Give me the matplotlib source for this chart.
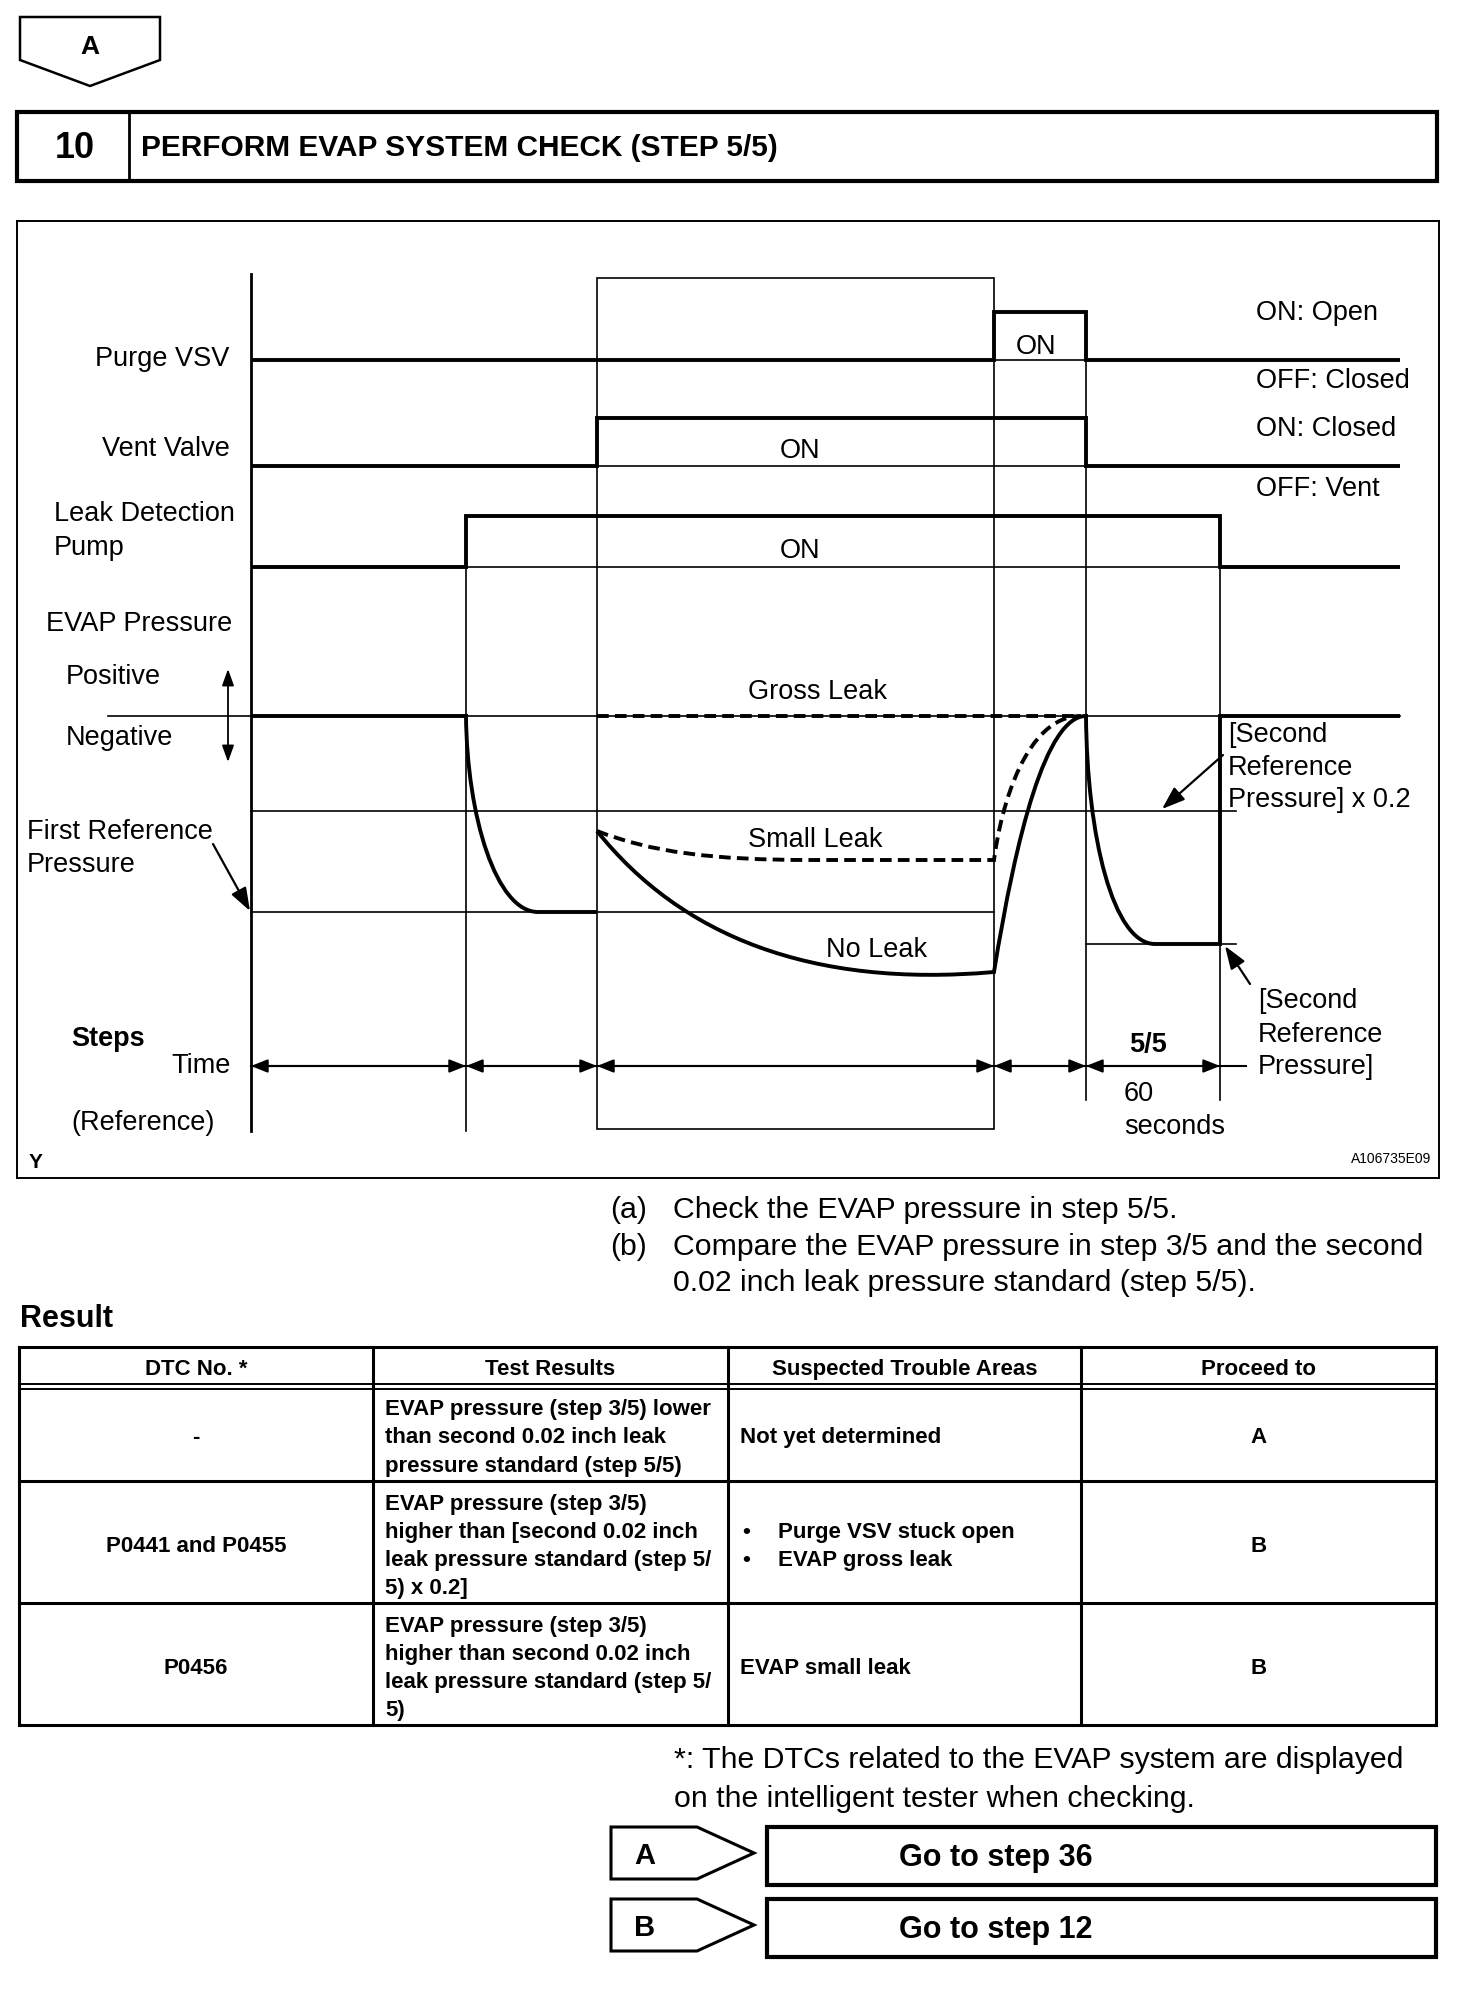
import matplotlib
matplotlib.use('Agg')
import matplotlib.pyplot as plt
from matplotlib.path import Path
from matplotlib.patches import PathPatch, Rectangle, Polygon

plt.rcParams['font.family'] = ['Liberation Sans', 'DejaVu Sans']

# ---- timing diagram data (time units, pressure / lane units) ----
step_edges = [0, 21.5, 34.6, 74.3, 83.5, 96.9, 114.9]
purge_state = [0, 0, 0, 1, 0, 0]
vent_state = [0, 0, 1, 1, 0, 0]
pump_state = [0, 1, 1, 1, 1, 0]
lane_base = {'purge': 178, 'vent': 125, 'pump': 74.5}
lane_high = {'purge': 24, 'vent': 24, 'pump': 25.5}

p_zero = 0
p_first_ref = -98
p_second_ref = -114
p_second_x02 = -47.5

# bezier control points (t, p)
pump_down = [(21.5, 0), (21.6, -50), (24.5, -98), (28.7, -98)]
no_leak = [(34.6, -57.5), (43, -110), (56, -136), (74.3, -128)]
no_leak_rise = [(74.3, -128), (76.5, -60), (79.5, 0), (83.5, 0)]
step5_down = [(83.5, 0), (83.6, -60), (86.2, -114), (90.4, -114)]
small_leak = [(34.6, -57.5), (40, -68), (46, -72), (56, -72)]
small_leak_end = 74.3
small_rise = [(74.3, -72), (75.0, -45), (77.5, 0), (83.0, 0)]

# ---- table data ----
col_titles = ['DTC No. *', 'Test Results', 'Suspected Trouble Areas', 'Proceed to']
dtc_codes = ['-', 'P0441 and P0455', 'P0456']
test_results = [
    ['EVAP pressure (step 3/5) lower', 'than second 0.02 inch leak',
     'pressure standard (step 5/5)'],
    ['EVAP pressure (step 3/5)', 'higher than [second 0.02 inch',
     'leak pressure standard (step 5/', '5) x 0.2]'],
    ['EVAP pressure (step 3/5)', 'higher than second 0.02 inch',
     'leak pressure standard (step 5/', '5)'],
]
trouble_areas = [['Not yet determined'],
                 ['Purge VSV stuck open', 'EVAP gross leak'],
                 ['EVAP small leak']]
proceed_to = ['A', 'B', 'B']
goto_steps = [('A', 'Go to step 36'), ('B', 'Go to step 12')]

W, H = 1472, 2008
fig = plt.figure(figsize=(W / 100, H / 100), dpi=100)
pg = fig.add_axes([0, 0, 1, 1])
pg.set_xlim(0, W)
pg.set_ylim(H, 0)
pg.axis('off')

THICK = 2.8
THIN = 1.2


def txt(x, y, s, size=19.5, ha='left', bold=False, va='center'):
    # small nudge: matplotlib centres the box incl. descent
    pg.text(x, y + 2.5, s, fontsize=size, ha=ha, va=va,
            fontweight='bold' if bold else 'normal', zorder=5)


# ---- header ----
pg.add_patch(Polygon([(20, 18), (160, 18), (160, 61), (90, 87), (20, 61)],
                     closed=True, fill=False, lw=1.8, ec='k'))
txt(90, 45, 'A', size=19, ha='center', bold=True)
pg.add_patch(Rectangle((17, 113), 1420, 69, fill=False, lw=3, ec='k'))
pg.plot([129, 129], [113, 182], color='k', lw=2)
txt(75, 146, '10', size=26, ha='center', bold=True)
txt(141, 146, 'PERFORM EVAP SYSTEM CHECK (STEP 5/5)', size=21.5, bold=True)

# ---- diagram axes ----
x0, x1, y0, y1 = 17, 1439, 222, 1179
ax = fig.add_axes([x0 / W, 1 - y1 / H, (x1 - x0) / W, (y1 - y0) / H])
ax.set_xlim(-23.4, 118.8)
ax.set_ylim(-231, 247.5)
ax.set_xticks([])
ax.set_yticks([])
ax.patch.set_alpha(0)
for s in ax.spines.values():
    s.set_linewidth(1.4)

# signal lanes
for name, st in [('purge', purge_state), ('vent', vent_state), ('pump', pump_state)]:
    vals = [lane_base[name] + lane_high[name] * v for v in st]
    ax.stairs(vals, step_edges, baseline=None, color='k', lw=THICK)
ax.plot([step_edges[3], step_edges[4]], [lane_base['purge']] * 2, color='k', lw=THIN)
ax.plot([step_edges[2], step_edges[4]], [lane_base['vent']] * 2, color='k', lw=THIN)
ax.plot([step_edges[1], step_edges[5]], [lane_base['pump']] * 2, color='k', lw=THIN)

# verticals / frames
ax.plot([0, 0], [221, -207.5], color='k', lw=2)
ax.plot([step_edges[1]] * 2, [lane_base['pump'] + lane_high['pump'], -207.5], color='k', lw=THIN)
ax.add_patch(Rectangle((step_edges[2], -206.5), step_edges[3] - step_edges[2], 219 + 206.5,
                       fill=False, lw=THIN, ec='k'))
ax.plot([step_edges[4]] * 2, [lane_base['purge'] + lane_high['purge'], -192], color='k', lw=THIN)
ax.plot([step_edges[5]] * 2, [lane_base['pump'] + lane_high['pump'], -192], color='k', lw=THIN)

# reference levels
ax.plot([-14.3, step_edges[6]], [p_zero] * 2, color='k', lw=THIN)
ax.plot([0, step_edges[3]], [p_first_ref] * 2, color='k', lw=THIN)
ax.plot([0, 98.5], [p_second_x02] * 2, color='k', lw=THIN)
ax.plot([step_edges[4], 98.5], [p_second_ref] * 2, color='k', lw=THIN)

C4 = Path.CURVE4
# solid pressure trace
verts = [(0, 0)] + pump_down + [(step_edges[2], p_first_ref)]
codes = [Path.MOVETO, Path.LINETO, C4, C4, C4, Path.LINETO]
ax.add_patch(PathPatch(Path(verts, codes), fill=False, lw=THICK, ec='k', capstyle='butt'))
verts = no_leak + no_leak_rise[1:] + step5_down[1:] + [(step_edges[5], p_second_ref),
                                                       (step_edges[5], 0), (step_edges[6], 0)]
codes = [Path.MOVETO] + [C4] * 3 + [C4] * 3 + [C4] * 3 + [Path.LINETO] * 3
ax.add_patch(PathPatch(Path(verts, codes), fill=False, lw=THICK, ec='k', joinstyle='miter'))

# dashed traces
dash = (0, (3, 1.6))
ax.plot([step_edges[2], 82.5], [0, 0], color='k', lw=THICK, ls=dash)
verts = small_leak + [(small_leak_end, -72)] + small_rise[1:]
codes = [Path.MOVETO, C4, C4, C4, Path.LINETO, C4, C4, C4]
ax.add_patch(PathPatch(Path(verts, codes), fill=False, lw=THICK, ec='k', ls=dash))

# time arrows
ya = -175
ax.plot([0, 99.5], [ya, ya], color='k', lw=1.5)
for a, b in zip(step_edges[:-1], step_edges[1:6]):
    ax.annotate('', xy=(b, ya), xytext=(a, ya),
                arrowprops=dict(arrowstyle='<|-|>,head_length=0.5,head_width=0.2',
                                lw=1.5, color='k', shrinkA=0, shrinkB=0, mutation_scale=20))
ax.annotate('', xy=(-2.3, -23), xytext=(-2.3, 23.5),
            arrowprops=dict(arrowstyle='<|-|>,head_length=0.5,head_width=0.18',
                            lw=1.3, color='k', shrinkA=0, shrinkB=0, mutation_scale=20))
for (xa, ya_), (xb, yb) in [((-3.8, -64), (-0.1, -97.5)),
                            ((97.2, -19.5), (91.1, -46.5)),
                            ((99.9, -134), (97.4, -115))]:
    ax.annotate('', xy=(xb, yb), xytext=(xa, ya_),
                arrowprops=dict(arrowstyle='-|>,head_length=0.7,head_width=0.25',
                                lw=1.6, color='k', shrinkA=0, shrinkB=0, mutation_scale=20))

# diagram labels (page pixels)
txt(229, 357, 'Purge VSV', ha='right')
txt(230, 446, 'Vent Valve', ha='right')
txt(54, 512, 'Leak Detection')
txt(54, 546, 'Pump')
txt(46, 622, 'EVAP Pressure')
txt(66, 675, 'Positive')
txt(66, 736, 'Negative')
txt(27, 830, 'First Reference')
txt(27, 863, 'Pressure')
txt(71, 1037, 'Steps', bold=True)
txt(231, 1064, 'Time', ha='right')
txt(71, 1121, '(Reference)')
txt(29, 1160, 'Y', size=15, bold=True)
txt(1256, 310, 'ON: Open')
txt(1256, 378, 'OFF: Closed')
txt(1256, 426, 'ON: Closed')
txt(1256, 486, 'OFF: Vent')
txt(1036, 344, 'ON', ha='center')
txt(800, 448, 'ON', ha='center')
txt(800, 549, 'ON', ha='center')
txt(818, 690, 'Gross Leak', ha='center')
txt(815, 838, 'Small Leak', ha='center')
txt(877, 948, 'No Leak', ha='center')
txt(1228, 733, '[Second')
txt(1228, 766, 'Reference')
txt(1228, 798, 'Pressure] x 0.2')
txt(1258, 999, '[Second')
txt(1258, 1033, 'Reference')
txt(1258, 1065, 'Pressure]')
txt(1148, 1043, '5/5', ha='center', bold=True)
txt(1124, 1092, '60')
txt(1124, 1125, 'seconds')
txt(1431, 1157, 'A106735E09', size=10, ha='right')

# ---- instructions ----
BIG = 21.8
txt(610, 1208, '(a)', size=BIG)
txt(673, 1208, 'Check the EVAP pressure in step 5/5.', size=BIG)
txt(610, 1245, '(b)', size=BIG)
txt(673, 1245, 'Compare the EVAP pressure in step 3/5 and the second', size=BIG)
txt(673, 1281, '0.02 inch leak pressure standard (step 5/5).', size=BIG)
txt(20, 1317, 'Result', size=22, bold=True)

# ---- table ----
cols = [19, 373, 728, 1081, 1436]
rows = [1348, 1387, 1482, 1604, 1726]
TL = 2.2
for c in cols:
    pg.plot([c, c], [rows[0], rows[-1]], color='k', lw=TL)
pg.plot([cols[0], cols[-1]], [rows[0]] * 2, color='k', lw=TL)
pg.plot([cols[0], cols[-1]], [1384.5] * 2, color='k', lw=1.4)
pg.plot([cols[0], cols[-1]], [1390] * 2, color='k', lw=1.4)
for r in rows[2:]:
    pg.plot([cols[0], cols[-1]], [r, r], color='k', lw=TL)

TS = 16
for i, t in enumerate(col_titles):
    txt((cols[i] + cols[i + 1]) / 2, 1367, t, size=TS, ha='center', bold=True)
LH = 28.3
for i in range(3):
    yc = (rows[i + 1] + rows[i + 2]) / 2 + 1
    txt((cols[0] + cols[1]) / 2, yc, dtc_codes[i], size=TS, ha='center', bold=True)
    lines = test_results[i]
    top = yc - LH * (len(lines) - 1) / 2
    for k, ln in enumerate(lines):
        txt(385, top + k * LH, ln, size=TS, bold=True)
    areas = trouble_areas[i]
    if len(areas) == 1:
        txt(740, yc, areas[0], size=TS, bold=True)
    else:
        top = yc - LH * (len(areas) - 1) / 2
        for k, ln in enumerate(areas):
            txt(742, top + k * LH, '\u2022', size=TS, bold=True)
            txt(778, top + k * LH, ln, size=TS, bold=True)
    txt((cols[3] + cols[4]) / 2, yc, proceed_to[i], size=TS, ha='center', bold=True)

# ---- footnote and go-to boxes ----
txt(674, 1758, '*: The DTCs related to the EVAP system are displayed', size=BIG)
txt(674, 1797, 'on the intelligent tester when checking.', size=BIG)
for j, (lab, goto) in enumerate(goto_steps):
    t0 = 1828 + j * 72
    pg.add_patch(Polygon([(611, t0), (697, t0), (754, t0 + 26), (697, t0 + 52), (611, t0 + 52)],
                         closed=True, fill=False, lw=2.2, ec='k'))
    txt(645, t0 + 26, lab, size=21, ha='center', bold=True)
    pg.add_patch(Rectangle((767, t0), 669, 58, fill=False, lw=3, ec='k'))
    txt(899, t0 + 28, goto, size=22, bold=True)

fig.savefig('out.png', dpi=100)
